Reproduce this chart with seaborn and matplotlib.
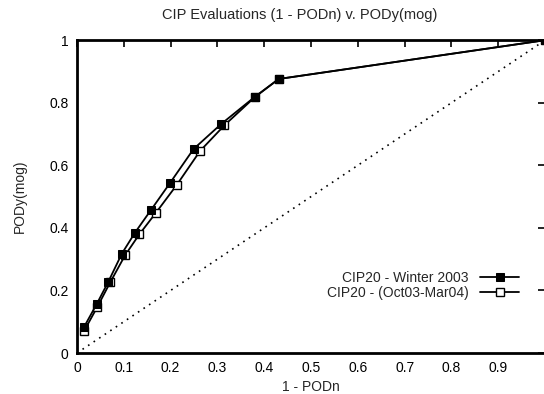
import matplotlib
matplotlib.use('Agg')
import matplotlib.pyplot as plt
import seaborn as sns
import pandas as pd

# 1 - PODn / PODy(mog) values
winter_x = [0.015, 0.042, 0.067, 0.096, 0.124, 0.158, 0.199, 0.249, 0.308, 0.380, 0.431, 1.0]
winter_y = [0.083, 0.156, 0.228, 0.318, 0.385, 0.457, 0.544, 0.652, 0.732, 0.819, 0.876, 1.0]
oct_x = [0.015, 0.043, 0.071, 0.103, 0.133, 0.169, 0.213, 0.263, 0.315, 0.380, 0.431, 1.0]
oct_y = [0.070, 0.146, 0.226, 0.313, 0.379, 0.449, 0.537, 0.646, 0.728, 0.818, 0.876, 1.0]
diag = [0.0, 1.0]

sns.set_style('white')
plt.rcParams['font.family'] = ['Liberation Sans', 'DejaVu Sans']

fig = plt.figure(figsize=(5.44, 3.94), dpi=100)
ax = fig.add_axes([0.1415, 0.104, 0.8605, 0.794])

# diagonal reference line
sns.lineplot(x=diag, y=diag, ax=ax, color='black', linestyle=(0, (1, 3)), linewidth=1.2)

winter = pd.DataFrame({'x': winter_x, 'y': winter_y})
octmar = pd.DataFrame({'x': oct_x, 'y': oct_y})

sns.lineplot(data=octmar, x='x', y='y', sort=False, ax=ax, color='black', linewidth=1.3,
             marker='s', markersize=5.5, markerfacecolor='white', markeredgecolor='black',
             markeredgewidth=1.0, label='CIP20 - (Oct03-Mar04)')
sns.lineplot(data=winter, x='x', y='y', sort=False, ax=ax, color='black', linewidth=1.3,
             marker='s', markersize=5.5, markerfacecolor='black', markeredgecolor='black',
             label='CIP20 - Winter 2003')

ax.set_xlim(0, 1)
ax.set_ylim(0, 1)
ax.set_xticks([0, 0.1, 0.2, 0.3, 0.4, 0.5, 0.6, 0.7, 0.8, 0.9])
ax.set_xticklabels(['0', '0.1', '0.2', '0.3', '0.4', '0.5', '0.6', '0.7', '0.8', '0.9'])
ax.set_yticks([0, 0.2, 0.4, 0.6, 0.8, 1.0])
ax.set_yticklabels(['0', '0.2', '0.4', '0.6', '0.8', '1'])
ax.tick_params(direction='in', length=5, width=1.2, top=True, right=True,
               labelsize=10, colors='black', pad=6)
for s in ax.spines.values():
    s.set_linewidth(2)
    s.set_color('black')

ax.set_xlabel('1 - PODn', fontsize=10, labelpad=3)
ax.set_ylabel('PODy(mog)', fontsize=10, labelpad=16)
ax.set_title('CIP Evaluations (1 - PODn) v. PODy(mog)', fontsize=10.5, pad=15, x=0.475)

handles, labels = ax.get_legend_handles_labels()
ax.legend(handles[::-1], labels[::-1], loc='lower right', bbox_to_anchor=(0.965, 0.14),
          frameon=False, markerfirst=False, fontsize=10, handlelength=2.8,
          labelspacing=0.05, borderpad=0.2)

fig.savefig('out.png', dpi=100)
